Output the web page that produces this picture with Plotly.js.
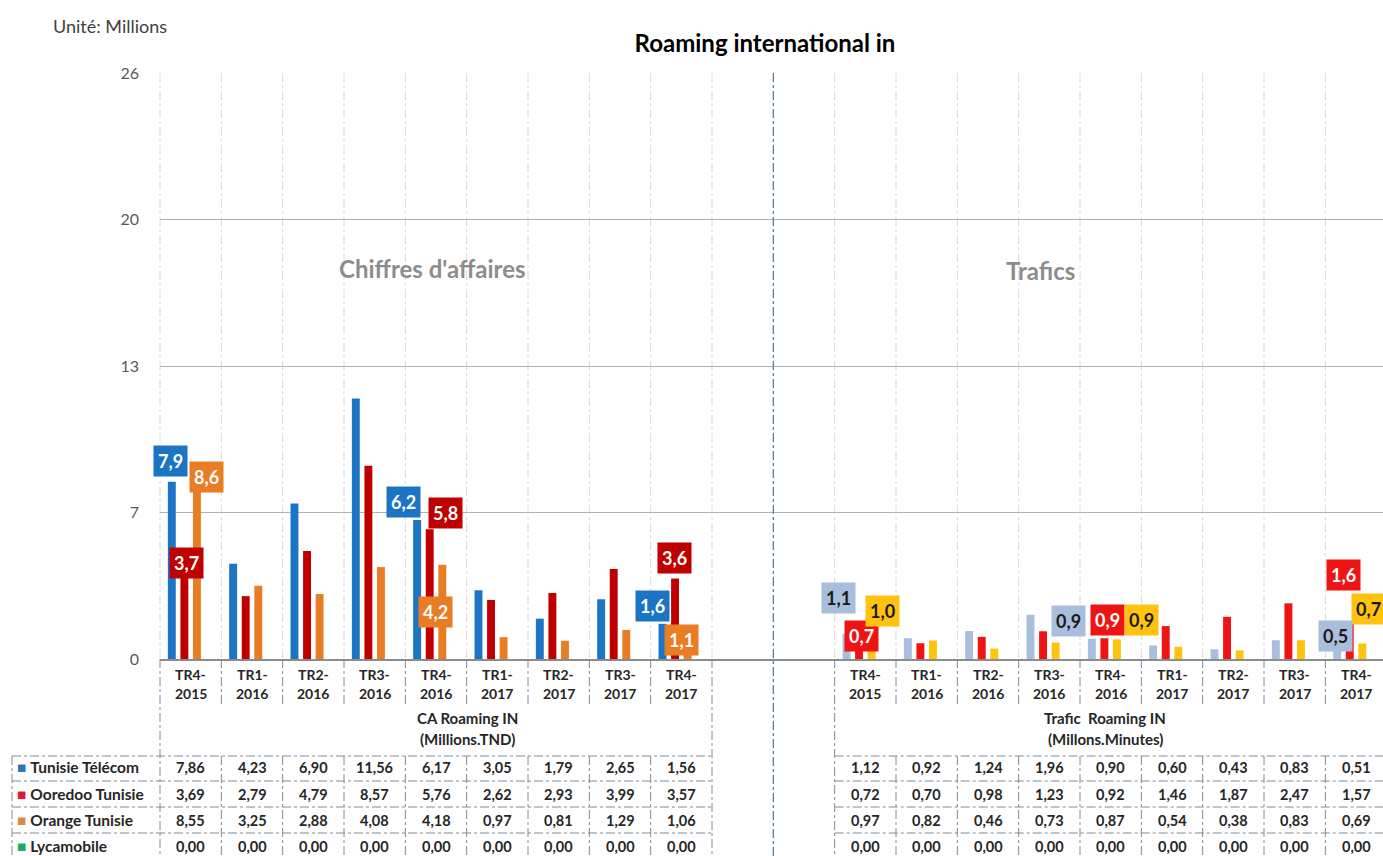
<!DOCTYPE html>
<html><head><meta charset="utf-8">
<script src="https://cdn.plot.ly/plotly-3.0.1.min.js"></script>
<style>html,body{margin:0;padding:0;background:#fff;}#chart{width:1383px;height:856px;}</style>
</head><body><div id="chart"></div>
<script>
// ---------- data ----------
const quarters = ['TR4-2015','TR1-2016','TR2-2016','TR3-2016','TR4-2016','TR1-2017','TR2-2017','TR3-2017','TR4-2017'];
const operators = ['Tunisie Télécom','Ooredoo Tunisie','Orange Tunisie','Lycamobile'];
const caTT      = [7.86,4.23,6.90,11.56,6.17,3.05,1.79,2.65,1.56];
const caOoredoo = [3.69,2.79,4.79,8.57,5.76,2.62,2.93,3.99,3.57];
const caOrange  = [8.55,3.25,2.88,4.08,4.18,0.97,0.81,1.29,1.06];
const caLyca    = [0,0,0,0,0,0,0,0,0];
const trTT      = [1.12,0.92,1.24,1.96,0.90,0.60,0.43,0.83,0.51];
const trOoredoo = [0.72,0.70,0.98,1.23,0.92,1.46,1.87,2.47,1.57];
const trOrange  = [0.97,0.82,0.46,0.73,0.87,0.54,0.38,0.83,0.69];
const trLyca    = [0,0,0,0,0,0,0,0,0];
const yTickVals = [0,6.5,13,19.5,26];
const yTickText = ['0','7','13','20','26'];
const caTitle = ['CA Roaming IN','(Millions.TND)'];
const trTitle = ['Trafic  Roaming IN','(Millons.Minutes)'];

// ---------- geometry / styling ----------
const W=1383,H=856,L=160,T=73,B=659;
const xRange=[-0.5,19.44];
const trOffset=11;
const FONT='Lato, "Open Sans", sans-serif';
const caColors=['#1c74c4','#c00000','#e87d23','#00b050'];
const trColors=['#a8bedc','#ee1414','#ffc20e','#00b050'];
const legendColors=['#2e75b6','#e0193b','#d98c3e','#1aab5b'];
const caLabelText=['#fff','#fff','#fff','#fff'];
const trLabelText=['#1a1a1a','#fff','#1a1a1a','#1a1a1a'];
const groups=['tt','oo','or','ly'];
const caSeries=[caTT,caOoredoo,caOrange,caLyca];
const trSeries=[trTT,trOoredoo,trOrange,trLyca];

const pxPerIdx=(W-L)/(xRange[1]-xRange[0]);
const idx2px=i=>L+(i-xRange[0])*pxPerIdx;
const px2pX=px=>(px-L)/(W-L);
const py2pY=py=>(B-py)/(B-T);
const caX=quarters.map((q,i)=>i);
const trX=quarters.map((q,i)=>i+trOffset);

const traces=[];
for(let s=0;s<4;s++){
  traces.push({type:'bar',x:caX,y:caSeries[s],offsetgroup:groups[s],marker:{color:caColors[s]},name:operators[s],hoverinfo:'skip'});
  traces.push({type:'bar',x:trX,y:trSeries[s],offsetgroup:groups[s],marker:{color:trColors[s]},name:operators[s],hoverinfo:'skip'});
}

const fmt=v=>(Math.round(v*10)/10).toFixed(1).replace('.',',');
const ann=[];
const shapes=[];
const txt=(o)=>ann.push(Object.assign({showarrow:false,xanchor:'center',yanchor:'middle'},o));

// data labels: [block, series, quarter index, dx, dy(up)]
const labelSpec=[
 ['ca',0,0,-20,21],['ca',2,0,16,-11],['ca',1,0,-4,13],
 ['ca',0,4,-33,18],['ca',1,4,9,16],['ca',2,4,-1,-47],
 ['ca',1,8,-7,21],['ca',0,8,-29,18],['ca',2,8,0,-5],
 ['tr',0,0,-27,36],['tr',1,0,-4,7],['tr',2,0,17,26],
 ['tr',0,4,-42,18],['tr',1,4,-3,18],['tr',2,4,31,19],
 ['tr',1,8,-13,49],['tr',2,8,12,34],['tr',0,8,-21,12]
];
labelSpec.forEach(([blk,s,q,dx,dy])=>{
  const ser=blk==='ca'?caSeries:trSeries;
  const v=ser[s][q];
  txt({x:blk==='ca'?caX[q]:trX[q],y:v,xref:'x',yref:'y',text:'<b>'+fmt(v)+'</b>',
    xshift:dx,yshift:dy,bgcolor:blk==='ca'?caColors[s]:trColors[s],borderpad:4,
    font:{family:FONT,size:18,color:blk==='ca'?caLabelText[s]:trLabelText[s]}});
});

// category labels under axis
quarters.forEach((q,i)=>{
  const parts=q.split('-');
  [caX[i],trX[i]].forEach(xi=>{
    txt({x:xi,xref:'x',y:py2pY(674),yref:'paper',text:'<b>'+parts[0]+'-</b>',font:{family:FONT,size:14,color:'#262626'}});
    txt({x:xi,xref:'x',y:py2pY(693),yref:'paper',text:'<b>'+parts[1]+'</b>',font:{family:FONT,size:14,color:'#262626'}});
  });
});

// table headings
const hFont={family:FONT,size:15,color:'#262626'};
txt({x:px2pX(467),xref:'paper',y:py2pY(718),yref:'paper',text:'<b>'+caTitle[0]+'</b>',font:hFont});
txt({x:px2pX(467),xref:'paper',y:py2pY(739),yref:'paper',text:'<b>'+caTitle[1]+'</b>',font:hFont});
txt({x:px2pX(1105),xref:'paper',y:py2pY(718),yref:'paper',text:'<b>'+trTitle[0]+'</b>',font:hFont});
txt({x:px2pX(1105),xref:'paper',y:py2pY(739),yref:'paper',text:'<b>'+trTitle[1]+'</b>',font:hFont});

// table rows
const rowY=[767,794,820,846];
operators.forEach((op,s)=>{
  txt({x:px2pX(15),xref:'paper',xanchor:'left',y:py2pY(rowY[s]),yref:'paper',
    text:'<span style="color:'+legendColors[s]+'">■</span> <b>'+op+'</b>',font:{family:FONT,size:15.5,color:'#262626'}});
  quarters.forEach((q,i)=>{
    txt({x:caX[i],xref:'x',y:py2pY(rowY[s]),yref:'paper',text:'<b>'+caSeries[s][i].toFixed(2).replace('.',',')+'</b>',font:{family:FONT,size:14.5,color:'#262626'}});
    txt({x:trX[i],xref:'x',y:py2pY(rowY[s]),yref:'paper',text:'<b>'+trSeries[s][i].toFixed(2).replace('.',',')+'</b>',font:{family:FONT,size:14.5,color:'#262626'}});
  });
});

// texts
txt({x:px2pX(51),xref:'paper',xanchor:'left',y:py2pY(26),yref:'paper',text:'Unité: Millions',font:{family:FONT,size:18,color:'#404040'}});
txt({x:px2pX(432),xref:'paper',y:py2pY(268),yref:'paper',text:'<b>Chiffres d\'affaires</b>',font:{family:FONT,size:24,color:'#8c8c8c'}});
txt({x:px2pX(1040),xref:'paper',y:py2pY(270),yref:'paper',text:'<b>Trafics</b>',font:{family:FONT,size:24,color:'#8c8c8c'}});

// lines
const line=(x0,y0,x1,y1,color,w,dash,layer)=>shapes.push({type:'line',xref:'paper',yref:'paper',x0:px2pX(x0),x1:px2pX(x1),y0:py2pY(y0),y1:py2pY(y1),line:{color:color,width:w,dash:dash},layer:layer||'above'});
const tableBorder='#7f8a96';
// faint plot-area verticals
for(let b=-0.5;b<=8.5;b+=1) line(idx2px(b),T,idx2px(b),B,'#dadada',1,'dashdot','below');
for(let b=10.5;b<=18.5;b+=1) line(idx2px(b),T,idx2px(b),B,'#dadada',1,'dashdot','below');
// separators below axis
for(let b=-0.5;b<=8.5;b+=1){
  const full=(b===-0.5||b===8.5);
  line(idx2px(b),B,idx2px(b),full?858:705,tableBorder,1,'dashdot');
  if(!full) line(idx2px(b),756,idx2px(b),858,tableBorder,1,'dashdot');
}
for(let b=10.5;b<=18.5;b+=1){
  const full=(b===10.5);
  line(idx2px(b),B,idx2px(b),full?858:705,tableBorder,1,'dashdot');
  if(!full) line(idx2px(b),756,idx2px(b),858,tableBorder,1,'dashdot');
}
// table horizontal borders
[756,781,807,833].forEach(y=>{
  line(12,y,idx2px(8.5),y,tableBorder,1,'dashdot');
  line(idx2px(10.5),y,W,y,tableBorder,1,'dashdot');
});
line(12,756,12,858,tableBorder,1,'dashdot');
// centre divider (between the two blocks)
line(idx2px(9.5),T,idx2px(9.5),858,'#5f7f99',1.3,'dashdot');

const layout={
  width:W,height:H,paper_bgcolor:'#fff',plot_bgcolor:'#fff',
  margin:{l:L,r:0,t:T,b:H-B,pad:0},
  showlegend:false,barmode:'group',bargap:0.18,bargroupgap:0.37,
  title:{text:'<b>Roaming international in</b>',x:765/W,xanchor:'center',y:1-44/H,yanchor:'middle',yref:'container',font:{family:FONT,size:24,color:'#000'}},
  xaxis:{range:xRange,showgrid:false,zeroline:false,showticklabels:false,ticks:'',showline:true,linecolor:'#8c8c8c',linewidth:1.5,fixedrange:true},
  yaxis:{range:[0,26],tickvals:yTickVals,ticktext:yTickText,showgrid:true,gridcolor:'#b3b3b3',gridwidth:1,zeroline:false,showline:false,ticks:'',ticklabelstandoff:20,tickfont:{family:FONT,size:16,color:'#595959'},fixedrange:true},
  annotations:ann,shapes:shapes
};
Plotly.newPlot('chart',traces,layout,{displayModeBar:false,staticPlot:true});
</script></body></html>
